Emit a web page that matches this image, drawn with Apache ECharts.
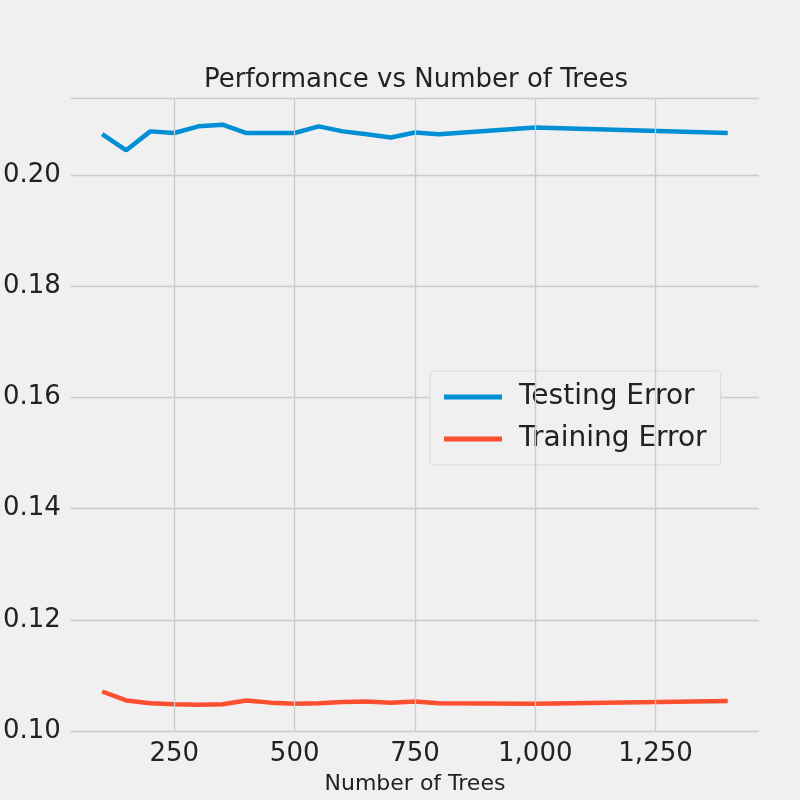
<!DOCTYPE html>
<html>
<head>
<meta charset="utf-8">
<script src="https://cdn.jsdelivr.net/npm/echarts@6/dist/echarts.min.js"></script>
<style>
  html, body { margin: 0; padding: 0; background: #f0f0f0; }
  #chart { width: 800px; height: 800px; }
</style>
</head>
<body>
<div id="chart"></div>
<script>
// 樹的數量與誤差
var trees = [100, 150, 200, 250, 300, 350, 400, 450, 500, 550, 600, 650, 700, 750, 800, 1000, 1400];
var testingError = [0.2073, 0.2044, 0.2078, 0.2075, 0.2087, 0.2090, 0.2075, 0.2075, 0.2075, 0.2087, 0.2078, 0.2073, 0.2067, 0.2076, 0.2073, 0.2085, 0.2075];
var trainingError = [0.1071, 0.1055, 0.1050, 0.1048, 0.1047, 0.1048, 0.1055, 0.1051, 0.1049, 0.1050, 0.1052, 0.1053, 0.1051, 0.1053, 0.1050, 0.1049, 0.1054];
var xTicks = [250, 500, 750, 1000, 1250];

function pairs(xs, ys) {
    return xs.map(function (x, i) { return [x, ys[i]]; });
}

var myChart = echarts.init(document.getElementById('chart'));
var font = 'DejaVu Sans';
var option = {
    backgroundColor: '#f0f0f0',
    animation: false,
    title: {
        text: 'Performance vs Number of Trees',
        left: 411, top: 62, textAlign: 'center',
        textStyle: { fontFamily: font, fontSize: 26, fontWeight: 'normal', color: '#222' }
    },
    legend: {
        left: 430, top: 371, width: 315,
        orient: 'vertical',
        padding: [12, 14, 12, 14],
        itemGap: 14,
        itemWidth: 58, itemHeight: 5,
        backgroundColor: '#f0f0f0',
        borderColor: '#d8d8d8', borderWidth: 1, borderRadius: 4,
        icon: 'rect',
        textStyle: { fontFamily: font, fontSize: 28, color: '#222', padding: [0, 0, 0, 12] },
        data: ['Testing Error', 'Training Error']
    },
    grid: { left: 64, right: 41, top: 98, bottom: 59 },
    xAxis: {
        type: 'value',
        min: 35, max: 1465,
        interval: 250,
        name: 'Number of Trees',
        nameLocation: 'middle', nameGap: 42,
        nameTextStyle: { fontFamily: font, fontSize: 22, color: '#222' },
        axisLine: { show: false }, axisTick: { show: false },
        axisLabel: {
            fontFamily: font, fontSize: 26, color: '#222', margin: 10,
            customValues: xTicks
        },
        splitLine: { show: false }
    },
    yAxis: {
        type: 'value',
        min: 0.10, max: 0.2138,
        interval: 0.02,
        axisLine: { show: false }, axisTick: { show: false },
        axisLabel: {
            fontFamily: font, fontSize: 26, color: '#222', margin: 10,
            formatter: function (v) { return v.toFixed(2); },
            showMaxLabel: false
        },
        splitLine: { lineStyle: { color: '#cbcbcb', width: 1.3 } }
    },
    series: [
        {
            name: 'Testing Error', type: 'line', data: pairs(trees, testingError),
            showSymbol: false, lineStyle: { width: 4.5, color: '#008fd5' }, itemStyle: { color: '#008fd5' }
        },
        {
            name: 'Training Error', type: 'line', data: pairs(trees, trainingError),
            showSymbol: false, lineStyle: { width: 4.5, color: '#fc4f30' }, itemStyle: { color: '#fc4f30' }
        },
        {
            // 垂直格線
            type: 'line', silent: true, data: [],
            markLine: {
                symbol: 'none', silent: true, label: { show: false },
                lineStyle: { color: '#cbcbcb', width: 1.3, type: 'solid' },
                data: xTicks.map(function (t) { return { xAxis: t }; })
            },
            z: 0
        }
    ]
};
option && myChart.setOption(option);
</script>
</body>
</html>
